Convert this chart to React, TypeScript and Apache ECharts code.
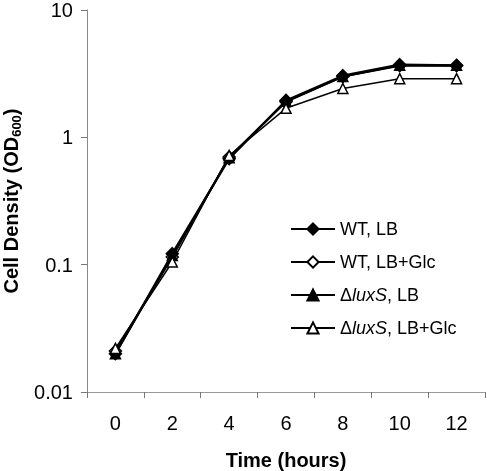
import React, { useEffect, useRef } from "react";
import * as echarts from "echarts";

const hours = ["0", "2", "4", "6", "8", "10", "12"];
const yTickLabels = ["0.01", "0.1", "1", "10"];
const wtLB = [0.020, 0.122, 0.68, 1.95, 3.05, 3.72, 3.68];
const wtLBGlc = [0.021, 0.115, 0.70, 1.90, 3.00, 3.65, 3.65];
const luxLB = [0.020, 0.118, 0.69, 1.92, 3.00, 3.68, 3.68];
const luxLBGlc = [0.022, 0.105, 0.72, 1.69, 2.42, 2.89, 2.89];

const FONT = "'Liberation Sans', Arial, sans-serif";

export default function App() {
  const ref = useRef<HTMLDivElement>(null);
  useEffect(() => {
    if (!ref.current) return;
    const chart = echarts.init(ref.current, undefined, { renderer: "svg" });
    const mk = (name: string, data: number[], symbol: string, size: number, fill: string, lw: number, z: number) => ({
      name,
      type: "line",
      data,
      symbol,
      symbolSize: size,
      z,
      lineStyle: { color: "#000", width: lw },
      itemStyle: { color: fill, borderColor: "#000", borderWidth: 1.5 },
      emphasis: { disabled: true },
    });
    chart.setOption({
      animation: false,
      textStyle: { fontFamily: FONT },
      grid: { left: 87, right: 2, top: 10, bottom: 79, containLabel: false, outerBoundsMode: "none" },
      legend: {
        orient: "vertical",
        left: 290,
        top: 219,
        padding: 0,
        itemWidth: 44,
        itemHeight: 14,
        itemGap: 13,
        textStyle: {
          fontFamily: FONT,
          fontSize: 18,
          color: "#000",
          lineHeight: 20,
          rich: { i: { fontStyle: "italic", fontSize: 18, fontFamily: FONT, color: "#000" } },
        },
        formatter: (n: string) => n.replace("luxS", "{i|luxS}"),
        data: ["WT, LB", "WT, LB+Glc", "ΔluxS, LB", "ΔluxS, LB+Glc"],
      },
      xAxis: {
        type: "category",
        data: hours,
        boundaryGap: true,
        name: "Time (hours)",
        nameLocation: "middle",
        nameGap: 58,
        nameTextStyle: { fontFamily: FONT, fontSize: 20, fontWeight: "bold", color: "#000" },
        axisLine: { lineStyle: { color: "#999", width: 1 } },
        axisTick: { show: true, length: 6, alignWithLabel: false, lineStyle: { color: "#777" } },
        axisLabel: { fontFamily: FONT, fontSize: 20, color: "#000", margin: 21 },
        splitLine: { show: false },
      },
      yAxis: {
        type: "log",
        logBase: 10,
        min: 0.01,
        max: 10,
        name: "Cell Density (OD{s|600})",
        nameLocation: "middle",
        nameGap: 63,
        nameTextStyle: {
          fontFamily: FONT,
          fontSize: 20,
          fontWeight: "bold",
          color: "#000",
          rich: {
            s: { fontFamily: FONT, fontSize: 13, fontWeight: "bold", color: "#000", verticalAlign: "bottom", lineHeight: 24 },
          },
        },
        axisLine: { show: true, lineStyle: { color: "#888", width: 1 } },
        axisTick: { show: true, length: 6, lineStyle: { color: "#777" } },
        axisLabel: {
          fontFamily: FONT,
          fontSize: 20,
          lineHeight: 16,
          color: "#000",
          margin: 14,
          formatter: (v: number) => yTickLabels[Math.round(Math.log10(v)) + 2] ?? "",
        },
        splitLine: { show: false },
      },
      series: [
        mk("WT, LB", wtLB, "diamond", 12, "#000", 2.2, 4),
        mk("WT, LB+Glc", wtLBGlc, "diamond", 12, "#fff", 2, 2),
        mk("ΔluxS, LB", luxLB, "triangle", 10, "#000", 2, 3),
        mk("ΔluxS, LB+Glc", luxLBGlc, "triangle", 10, "#fff", 1.5, 5),
      ],
    });
    return () => chart.dispose();
  }, []);
  return <div ref={ref} style={{ position: "fixed", left: 0, top: 0, width: 487, height: 471 }} />;
}
